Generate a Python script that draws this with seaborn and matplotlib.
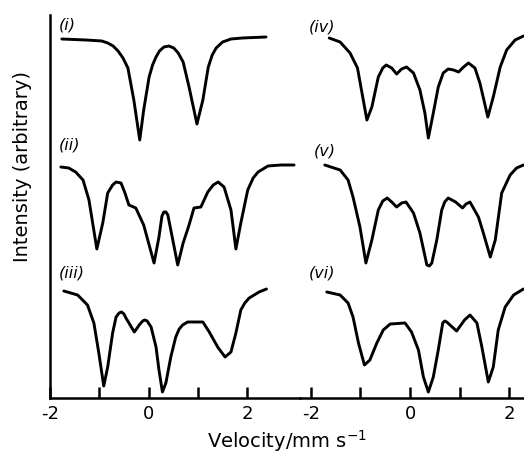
import matplotlib
matplotlib.use('Agg')
import matplotlib.pyplot as plt
import seaborn as sns

# Mossbauer spectra (velocity in mm/s, intensity arbitrary)
v_i = [-1.76, -1.27, -0.95, -0.83, -0.72, -0.62, -0.52, -0.42, -0.30, -0.18, -0.10, 0.01, 0.08,
       0.15, 0.22, 0.31, 0.41, 0.51, 0.60, 0.70, 0.82, 0.98, 1.10, 1.21, 1.29, 1.37, 1.50,
       1.67, 1.90, 2.38]
y_i = [359, 358, 357, 355, 352, 347, 340, 330, 298, 258, 288, 321, 333,
       341, 347, 351, 352, 350, 345, 336, 311, 274, 298, 331, 343, 350, 356,
       359, 360, 361]

v_ii = [-1.78, -1.62, -1.48, -1.33, -1.21, -1.05, -0.93, -0.83, -0.73, -0.66, -0.56, -0.48,
        -0.40, -0.26, -0.10, 0.11, 0.21, 0.27, 0.31, 0.35, 0.39, 0.49, 0.59, 0.70, 0.82,
        0.92, 1.06, 1.20, 1.31, 1.41, 1.53, 1.67, 1.77, 1.87, 2.01, 2.12, 2.22, 2.42,
        2.68, 2.95]
y_ii = [231, 230, 226, 218, 198, 149, 175, 205, 213, 216, 215, 205,
        193, 190, 173, 135, 161, 182, 186, 186, 183, 158, 133, 155, 173,
        190, 191, 206, 213, 216, 211, 188, 149, 175, 208, 220, 226, 232,
        233, 233]

v_iii = [-1.72, -1.44, -1.24, -1.11, -1.01, -0.91, -0.83, -0.73, -0.66, -0.60, -0.55, -0.50,
         -0.46, -0.29, -0.19, -0.12, -0.08, -0.03, 0.05, 0.15, 0.21, 0.28, 0.35, 0.45, 0.55,
         0.62, 0.69, 0.79, 1.10, 1.23, 1.40, 1.55, 1.67, 1.77, 1.87, 1.95, 2.04, 2.24, 2.39]
y_iii = [107, 103, 93, 75, 45, 12, 31, 65, 81, 85, 86, 84,
         80, 66, 73, 77, 78, 77, 71, 51, 28, 6, 15, 41, 61,
         69, 73, 76, 76, 66, 51, 41, 46, 65, 88, 95, 100, 106, 109]

v_iv = [-1.63, -1.41, -1.21, -1.06, -0.98, -0.87, -0.77, -0.64, -0.55, -0.48, -0.37, -0.27,
        -0.17, -0.07, 0.07, 0.20, 0.30, 0.37, 0.47, 0.57, 0.67, 0.77, 0.88, 0.98, 1.08,
        1.18, 1.31, 1.41, 1.57, 1.68, 1.82, 1.95, 2.12, 2.29]
y_iv = [360, 356, 345, 330, 308, 278, 291, 321, 330, 333, 330, 324,
        329, 331, 325, 308, 285, 260, 285, 311, 325, 329, 328, 326, 331,
        335, 330, 315, 281, 301, 331, 348, 358, 362]

v_v = [-1.72, -1.41, -1.25, -1.15, -1.01, -0.89, -0.77, -0.64, -0.55, -0.46, -0.37, -0.27,
       -0.17, -0.08, 0.07, 0.20, 0.34, 0.39, 0.44, 0.54, 0.64, 0.70, 0.77, 0.92, 1.06,
       1.13, 1.21, 1.38, 1.48, 1.62, 1.72, 1.85, 2.02, 2.15, 2.29]
y_v = [233, 228, 218, 201, 171, 135, 158, 188, 197, 200, 196, 191,
       195, 196, 185, 165, 133, 132, 135, 158, 188, 196, 200, 196, 190,
       194, 196, 181, 165, 141, 158, 205, 223, 230, 233]

v_vi = [-1.68, -1.41, -1.25, -1.15, -1.04, -0.92, -0.81, -0.67, -0.54, -0.40, -0.10, 0.03,
        0.17, 0.27, 0.37, 0.47, 0.57, 0.66, 0.70, 0.74, 0.94, 1.10, 1.21, 1.35, 1.45,
        1.58, 1.68, 1.78, 1.92, 2.09, 2.29]
y_vi = [106, 103, 95, 81, 55, 33, 38, 55, 68, 74, 75, 66,
        48, 21, 6, 21, 48, 75, 77, 76, 67, 78, 83, 75, 51,
        16, 31, 68, 91, 103, 109]

tick_pos = [-2, -1, 0, 1, 2]
tick_labels = ['-2', '', '0', '', '2']

sns.set_style('ticks')
plt.rcParams['font.family'] = ['DejaVu Sans']
plt.rcParams['text.color'] = 'black'
plt.rcParams['xtick.labelcolor'] = 'black'

fig = plt.figure(figsize=(5.24, 4.55), dpi=100)
ax1 = fig.add_axes([50 / 524, 57 / 455, 250 / 524, 383 / 455])
ax2 = fig.add_axes([300 / 524, 57 / 455, 224 / 524, 383 / 455])

left = [(v_i, y_i, '(i)', -1.82, 365), (v_ii, y_ii, '(ii)', -1.82, 245), (v_iii, y_iii, '(iii)', -1.82, 118)]
right = [(v_iv, y_iv, '(iv)', -2.05, 364), (v_v, y_v, '(v)', -1.95, 240), (v_vi, y_vi, '(vi)', -2.05, 117)]

for ax, curves, xlim in [(ax1, left, (-2, 3.07)), (ax2, right, (-2.22, 2.30))]:
    for v, y, lab, lx, ly in curves:
        sns.lineplot(x=v, y=y, ax=ax, color='black', lw=2.1, sort=False, estimator=None,
                     solid_joinstyle='round', solid_capstyle='round')
        ax.text(lx, ly, lab, fontsize=11.5, style='italic', ha='left', va='bottom', color='black')
    ax.set_xlim(*xlim)
    ax.set_ylim(0, 383)
    ax.set_yticks([])
    ax.set_xticks(tick_pos)
    ax.set_xticklabels(tick_labels, fontsize=13, color='black')
    ax.tick_params(axis='x', direction='in', length=8, width=1.8, pad=5, color='black')
    ax.patch.set_alpha(0)
    for s in ax.spines.values():
        s.set_linewidth(1.8)
        s.set_color('black')

sns.despine(ax=ax1, top=True, right=True)
sns.despine(ax=ax2, top=True, right=True, left=True)

fig.text(287 / 524, 1 - 441 / 455, 'Velocity/mm s$^{-1}$', fontsize=14, ha='center', va='center', color='black')
fig.text(23 / 524, 1 - 166 / 455, 'Intensity (arbitrary)', fontsize=14, rotation=90, ha='center', va='center', color='black')

fig.savefig('out.png', dpi=100)
